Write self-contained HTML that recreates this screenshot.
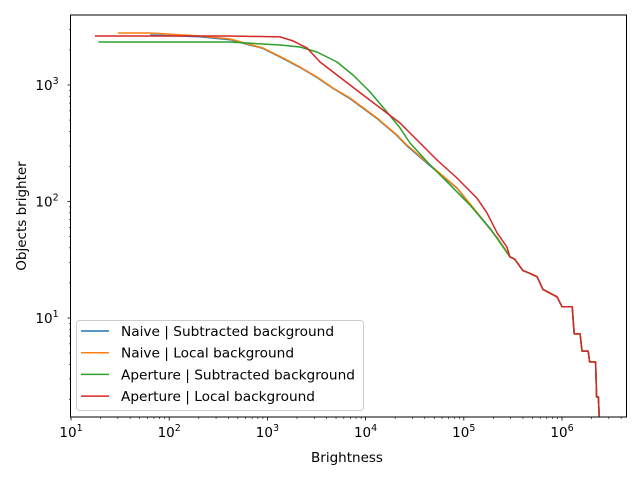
<!DOCTYPE html>
<html><head><meta charset="utf-8"><style>
body{margin:0;background:#fff}
svg{font-family:"DejaVu Sans","Liberation Sans",sans-serif}
</style></head><body>
<svg id="chart" width="640" height="480" xmlns="http://www.w3.org/2000/svg">
<rect width="640" height="480" fill="#fff"/>
<g id="plot"></g>
<g id="axes"></g>
</svg>
<script>
const seriesNames=["Naive | Subtracted background","Naive | Local background","Aperture | Subtracted background","Aperture | Local background"];
const colors=["#1f77b4","#ff7f0e","#2ca02c","#d62728"];
const tailX=[2.95e5,3.3e5,4.0e5,4.6e5,5.56e5,6.4e5,8.9e5,1.0e6,1.27e6,1.33e6,1.53e6,1.60e6,1.85e6,1.91e6,2.2e6,2.25e6,2.35e6,2.4e6];
const tailY=[33.5,32,25.5,24.4,22.6,17.6,15.2,12.5,12.5,7.3,7.3,5.2,5.2,4.2,4.2,2.1,2.1,1.35];
const blueX=[64,206,416,902,1442,2148,3199,4656,6934,1.31e4,2.09e4,2.64e4,4.53e4,8.53e4,1.36e5,2.18e5,2.75e5];
const blueY=[2685,2600,2450,2060,1690,1415,1160,935,765,515,368,300,203,130,80,49,36.9];
const orangeX=[30,64,206,416,902,1442,2148,3199,4656,6934,1.31e4,2.09e4,2.64e4,4.53e4,8.53e4,1.36e5,2.18e5,2.75e5];
const orangeY=[2795,2795,2634,2483,2078,1707,1428,1171,943,773,521,372,305,206,131,81,49,36.9];
const greenX=[19,416,1343,2148,3199,5117,7447,1.11e4,1.65e4,2.24e4,2.83e4,4.53e4,7.23e4,1.16e5,1.85e5,2.51e5];
const greenY=[2338,2338,2204,2120,1919,1574,1218,871,586,428,318,206,139,93,59,40.7];
const redX=[17.5,416,1343,1824,2531,3436,5117,6934,9420,1.5e4,2.24e4,2.83e4,5.33e4,8.53e4,1.36e5,1.72e5,2.18e5,2.75e5];
const redY=[2635,2635,2585,2389,2080,1574,1218,1000,821,610,472,387,227,159,107,80,54,40.7];
const L=71,R=626,T=15,B=417;
const xs=v=>71+(Math.log10(v)-1)*98.2;
const ys=v=>85-(Math.log10(v)-3)*116.5;
const NS="http://www.w3.org/2000/svg";
const plot=document.getElementById('plot'),axes=document.getElementById('axes');
function mk(tag,attrs,parent){const e=document.createElementNS(NS,tag);for(const k in attrs)e.setAttribute(k,attrs[k]);parent.appendChild(e);return e;}
const cp=mk('clipPath',{id:'cp'},plot);mk('rect',{x:L,y:T,width:R-L,height:B-T},cp);
const sx=[blueX,orangeX,greenX,redX],sy=[blueY,orangeY,greenY,redY];
for(let s=0;s<4;s++){
  const X=sx[s].concat(tailX),Y=sy[s].concat(tailY);
  const pts=X.map((x,i)=>xs(x).toFixed(1)+','+ys(Y[i]).toFixed(1)).join(' ');
  const pl=mk('polyline',{points:pts,fill:'none',stroke:colors[s],'stroke-width':1.5,'stroke-linejoin':'round','clip-path':'url(#cp)'},plot);
  
  
}
const frame=mk('rect',{x:L-0.5,y:T,width:R-L+1,height:B-T,fill:'none',stroke:'#000','stroke-width':1},axes);


const xExp=[1,2,3,4,5,6];
for(let d=1;d<=6;d++){for(let m=1;m<10;m++){const x=xs(m*Math.pow(10,d));if(x>R)continue;mk('line',{x1:x,x2:x,y1:B,y2:B+(m==1?3.5:2),stroke:'#000','stroke-width':m==1?0.8:0.6},axes);}}
xExp.forEach(e=>{const t=mk('text',{x:xs(Math.pow(10,e)),y:B+20,'font-size':13.5,'text-anchor':'middle'},axes);t.innerHTML='10<tspan dy="-6" font-size="9.5">'+e+'</tspan>';

});
const yExp=[1,2,3];
for(let d=0;d<=3;d++){for(let m=1;m<10;m++){const y=ys(m*Math.pow(10,d));if(y<T||y>B)continue;mk('line',{x1:L,x2:L-(m==1?3.5:2),y1:y,y2:y,stroke:'#000','stroke-width':m==1?0.8:0.6},axes);}}
yExp.forEach(e=>{const t=mk('text',{x:L-24,y:ys(Math.pow(10,e))+5,'font-size':13.5,'text-anchor':'middle'},axes);t.innerHTML='10<tspan dy="-6" font-size="9.5">'+e+'</tspan>';

});
const xt=mk('text',{x:347,y:462,'font-size':13.5,'text-anchor':'middle'},axes);xt.textContent='Brightness';


const yt=mk('text',{x:26,y:216,'font-size':13.5,'text-anchor':'middle',transform:'rotate(-90 26 216)'},axes);yt.textContent='Objects brighter';


const lg=mk('g',{},axes);


mk('rect',{x:76.5,y:320.5,width:287,height:90,rx:3,fill:'#fff','fill-opacity':0.8,stroke:'#ccc'},lg);
for(let s=0;s<4;s++){const y=331+s*21.7;
  mk('line',{x1:81,x2:109,y1:y,y2:y,stroke:colors[s],'stroke-width':1.5},lg);
  const t=mk('text',{x:121,y:y+5,'font-size':13.7},lg);t.textContent=seriesNames[s];
  
  }
</script>
</body></html>
